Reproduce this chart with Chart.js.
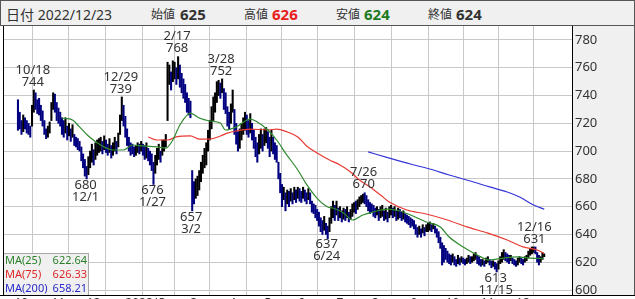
<!DOCTYPE html>
<html>
<head>
<meta charset="utf-8">
<script src="https://cdn.jsdelivr.net/npm/chart.js@4.4.1/dist/chart.umd.min.js"></script>
<style>
  html, body { margin: 0; padding: 0; width: 635px; height: 299px; overflow: hidden; background: #fff; }
  #wrap { position: relative; width: 635px; height: 316px; }
  #head {
    position: absolute; left: 0; top: 0; width: 633px; height: 24px;
    background: #f0f0f0; border: 1px solid #555; z-index: 2;
    font-family: "Noto Sans", "Noto Sans CJK JP", sans-serif; color: #333;
  }
  #head span { position: absolute; top: 0; line-height: 27px; white-space: nowrap; }
  .lbl { font-size: 12px; }
  .val { font-size: 15px; font-weight: bold; }
  canvas { position: absolute; left: 0; top: 0; }
</style>
</head>
<body>
<div id="wrap">
  <div id="head">
    <span class="lbl" style="left:5px;font-size:14px">日付 2022/12/23</span>
    <span class="lbl" style="left:150px">始値</span><span class="val" style="left:179px">625</span>
    <span class="lbl" style="left:243px">高値</span><span class="val" style="left:271px;color:#e8201c">626</span>
    <span class="lbl" style="left:335px">安値</span><span class="val" style="left:363px;color:#1e7a1e">624</span>
    <span class="lbl" style="left:427px">終値</span><span class="val" style="left:455px">624</span>
  </div>
  <canvas id="chart" width="635" height="316"></canvas>
</div>
<script>
// 日足 (index 0 = 2021/10/1 の営業日番号)
const firstDay = 2;
const lows = [
  715,716,712,714,716,713,712,710,718,728,
  730,727,726,722,718,712,709,710,713,722,
  730,728,722,720,718,712,710,713,708,711,
  707,710,704,703,701,700,693,688,682,680,
  683,688,692,690,694,697,699,700,698,701,
  699,697,699,695,697,700,698,703,712,722,
  718,710,704,700,697,698,696,697,699,698,
  700,697,694,695,693,690,686,676,684,690,
  694,692,697,700,703,722,748,744,750,752,
  748,752,746,742,738,735,728,726,724,657,
  662,666,668,672,678,684,688,690,700,708,
  716,722,728,735,740,738,742,730,727,718,
  716,720,728,712,705,700,702,708,712,715,
  712,710,713,708,702,696,692,698,702,700,
  704,706,702,696,700,698,694,692,680,670,
  660,665,657,662,660,664,662,665,663,666,
  664,663,666,664,662,665,662,656,655,652,
  650,646,642,640,643,640,637,642,648,652,
  650,654,650,652,649,651,650,652,649,651,
  653,656,655,658,660,662,663,662,660,657,
  655,656,653,652,654,650,652,653,650,651,
  649,652,654,652,653,650,651,652,650,651,
  649,648,647,645,646,644,640,638,640,638,
  641,639,642,642,643,642,644,641,638,634,
  630,618,620,622,620,619,618,620,618,617,
  619,618,620,619,618,619,620,619,620,621,
  622,619,618,617,618,617,619,620,618,616,
  617,615,613,615,619,620,622,621,620,619,
  621,619,618,617,618,620,619,618,620,621,
  623,625,626,627,626,620,618,620,622,624
];
const highs = [
  737,728,722,726,724,722,720,718,733,744,
  742,737,738,733,729,722,716,718,721,735,
  742,741,735,731,728,724,722,724,718,720,
  716,719,712,710,709,707,703,698,694,689,
  696,700,705,701,706,708,709,710,707,711,
  708,705,709,704,706,710,707,713,726,739,
  733,725,716,710,706,705,703,704,706,705,
  707,705,704,706,702,700,698,692,697,702,
  705,700,708,708,712,764,762,757,765,764,
  760,768,762,756,752,748,742,738,736,686,
  678,680,682,686,692,697,702,706,715,722,
  732,739,742,750,751,749,752,745,742,732,
  728,734,744,730,720,714,716,720,724,728,
  726,722,727,720,715,710,706,712,716,712,
  716,717,714,710,715,710,706,704,692,684,
  676,674,670,672,671,673,670,674,672,674,
  673,671,674,672,670,673,670,664,662,661,
  658,656,652,650,653,648,646,652,660,664,
  661,664,659,660,657,659,658,660,656,658,
  662,663,664,665,667,668,669,670,668,665,
  663,662,661,659,660,658,660,661,657,659,
  656,660,661,659,660,657,659,658,656,657,
  655,654,653,652,651,650,647,645,646,644,
  647,645,647,648,649,647,648,646,644,642,
  638,634,632,630,628,626,625,626,624,622,
  625,623,624,623,622,623,625,624,624,626,
  627,625,624,622,622,621,623,624,622,621,
  621,620,619,621,624,627,629,627,626,625,
  625,623,622,621,623,624,623,622,624,625,
  628,630,631,631,631,627,625,624,627,626
];

// 移動平均 (読み取り値)
const ma25Day = [27,33,37,42,49,56,62,67,73,81,86,90,94,100,105,111,117,120,126,134,138,144,149,154,161,166,172,178,181,187,192,198,204,212,219,225,234,242,247,255,263,270,278,286,293,301];
const ma25 = [723.8,722.4,717.4,710.9,704.4,700.8,700.8,704.4,703.7,703.0,702.2,708.0,718.8,727.4,723.8,721.7,720.2,715.2,717.4,723.1,721.0,715.2,708.0,698.6,686.4,676.0,666.0,659.8,659.0,655.4,650.4,654.0,656.2,658.3,656.9,654.0,649.0,645.4,638.2,631.0,625.2,621.6,623.0,623.8,623.0,622.64];
const ma75Day = [76,81,87,92,100,105,111,117,121,126,134,144,149,155,161,166,172,179,185,191,196,202,208,213,223,234,246,257,269,280,289,297,301];
const ma75 = [710.2,708.0,708.0,710.2,710.9,708.7,708.7,710.9,713.0,714.5,715.9,715.2,715.9,713.8,710.2,703.7,698.6,693.6,690.0,685.0,679.2,674.2,668.4,663.4,657.6,654.7,650.4,645.4,641.0,636.0,631.0,628.8,626.33];
const ma200Day = [201,213,225,236,247,259,270,280,287,295,301];
const ma200 = [699.4,695.0,690.7,687.1,682.8,678.5,674.2,670.6,667.0,661.2,658.21];

const monthStart = [0,21,41,63,82,100,122,142,161,183,203,225,245,265,285];
const monthLabels = ['10','11','12','2022/1','2','3','4','5','6','7','8','9','10','11','12'];
const yTicks = [600,620,640,660,680,700,720,740,760,780];

// 高値・安値の注記
const markDay  = [11,61,93,118,199,296,41,79,101,178,274];
const markVal  = [744,739,768,752,670,631,680,676,657,637,613];
const markDate = ['10/18','12/29','2/17','3/28','7/26','12/16','12/1','1/27','3/2','6/24','11/15'];
const markHigh = [true,true,true,true,true,true,false,false,false,false,false];

const legendNames = ['MA(25)','MA(75)','MA(200)'];
const legendVals = ['622.64','626.33','658.21'];
const maColors = ['#2f8a2f','#e83a32','#3535d8'];
const legendText = ['#2a7f2a','#e02828','#2a2ac8'];

const font = '"Noto Sans", "Noto Sans CJK JP", sans-serif';

const barColors = lows.map((lo, k) => {
  if (k === 0) return '#000080';
  return (lo + highs[k]) > (lows[k - 1] + highs[k - 1]) ? '#000000' : '#000080';
});

const framePlugin = {
  id: 'frame',
  beforeDraw(chart) {
    const ctx = chart.ctx, a = chart.chartArea;
    ctx.save();
    ctx.fillStyle = '#f0f0f0';
    ctx.fillRect(a.right, a.top, 635 - a.right, a.bottom - a.top);
    ctx.restore();
  },
  afterDraw(chart) {
    const ctx = chart.ctx, a = chart.chartArea;
    const xs = chart.scales.x, ys = chart.scales.y;
    ctx.save();
    // 注記
    ctx.font = '13px ' + font;
    ctx.fillStyle = '#333';
    ctx.textAlign = 'center';
    ctx.textBaseline = 'middle';
    markDay.forEach((d, k) => {
      const px = xs.getPixelForValue(d) - 1;
      const py = ys.getPixelForValue(markVal[k]);
      if (markHigh[k]) {
        ctx.fillText(String(markVal[k]), px, py - 8);
        ctx.fillText(markDate[k], px, py - 20);
      } else {
        ctx.fillText(String(markVal[k]), px, py + 6);
        ctx.fillText(markDate[k], px, py + 18);
      }
    });
    // 移動平均の凡例
    ctx.fillStyle = '#f0f0f0';
    ctx.fillRect(a.left, 253, 85, a.bottom - 253);
    ctx.strokeStyle = '#a8a8a8';
    ctx.lineWidth = 1;
    ctx.strokeRect(a.left + 0.5, 253.5, 85, a.bottom - 253);
    ctx.font = '11px ' + font;
    legendNames.forEach((n, k) => {
      const y = 261 + k * 14;
      ctx.fillStyle = legendText[k];
      ctx.textAlign = 'left';
      ctx.fillText(n, a.left + 2, y);
      ctx.textAlign = 'right';
      ctx.fillText(legendVals[k], a.left + 84, y);
    });
    // 枠
    ctx.strokeStyle = '#000';
    ctx.beginPath();
    ctx.moveTo(a.left + 0.5, a.top);
    ctx.lineTo(a.left + 0.5, a.bottom);
    ctx.moveTo(0, a.bottom + 0.5);
    ctx.lineTo(635, a.bottom + 0.5);
    ctx.stroke();
    ctx.strokeStyle = '#555';
    ctx.beginPath();
    ctx.moveTo(634.5, a.top);
    ctx.lineTo(634.5, a.bottom);
    ctx.stroke();
    ctx.restore();
  }
};

function maSet(days, vals, color) {
  return {
    type: 'line',
    data: days.map((d, k) => ({ x: d, y: vals[k] })),
    borderColor: color,
    borderWidth: 1.2,
    pointRadius: 0,
    cubicInterpolationMode: 'monotone',
    fill: false,
    order: 1
  };
}

new Chart(document.getElementById('chart'), {
  type: 'bar',
  data: {
    datasets: [
      {
        type: 'bar',
        data: lows.map((lo, k) => ({ x: firstDay + k, y: [lo, highs[k]] })),
        backgroundColor: barColors,
        barThickness: 1.4,
        grouped: false,
        order: 5
      },
      maSet(ma25Day, ma25, maColors[0]),
      maSet(ma75Day, ma75, maColors[1]),
      maSet(ma200Day, ma200, maColors[2])
    ]
  },
  options: {
    responsive: false,
    animation: false,
    devicePixelRatio: 1,
    layout: { padding: { left: 3, top: 25, right: 0, bottom: 0 } },
    plugins: { legend: { display: false }, tooltip: { enabled: false } },
    scales: {
      x: {
        type: 'linear',
        offset: false,
        min: -6.5,
        max: 316.8,
        afterBuildTicks: s => { s.ticks = monthStart.map(v => ({ value: v })); },
        afterFit: s => { s.height = 21; },
        grid: { color: '#c8c8c8', drawTicks: false },
        border: { display: true, color: '#000' },
        ticks: {
          autoSkip: false, maxRotation: 0, align: 'start', padding: 1,
          color: '#333', font: { size: 12, family: font },
          callback: v => monthLabels[monthStart.indexOf(v)]
        }
      },
      y: {
        position: 'right',
        min: 596.4,
        max: 790.8,
        afterBuildTicks: s => { s.ticks = yTicks.map(v => ({ value: v })); },
        afterFit: s => { s.width = 63; },
        grid: { color: '#c8c8c8', drawTicks: false },
        border: { display: true, color: '#000' },
        ticks: { padding: 3, color: '#333', font: { size: 13, family: font } }
      }
    }
  },
  plugins: [framePlugin]
});
</script>
</body>
</html>
